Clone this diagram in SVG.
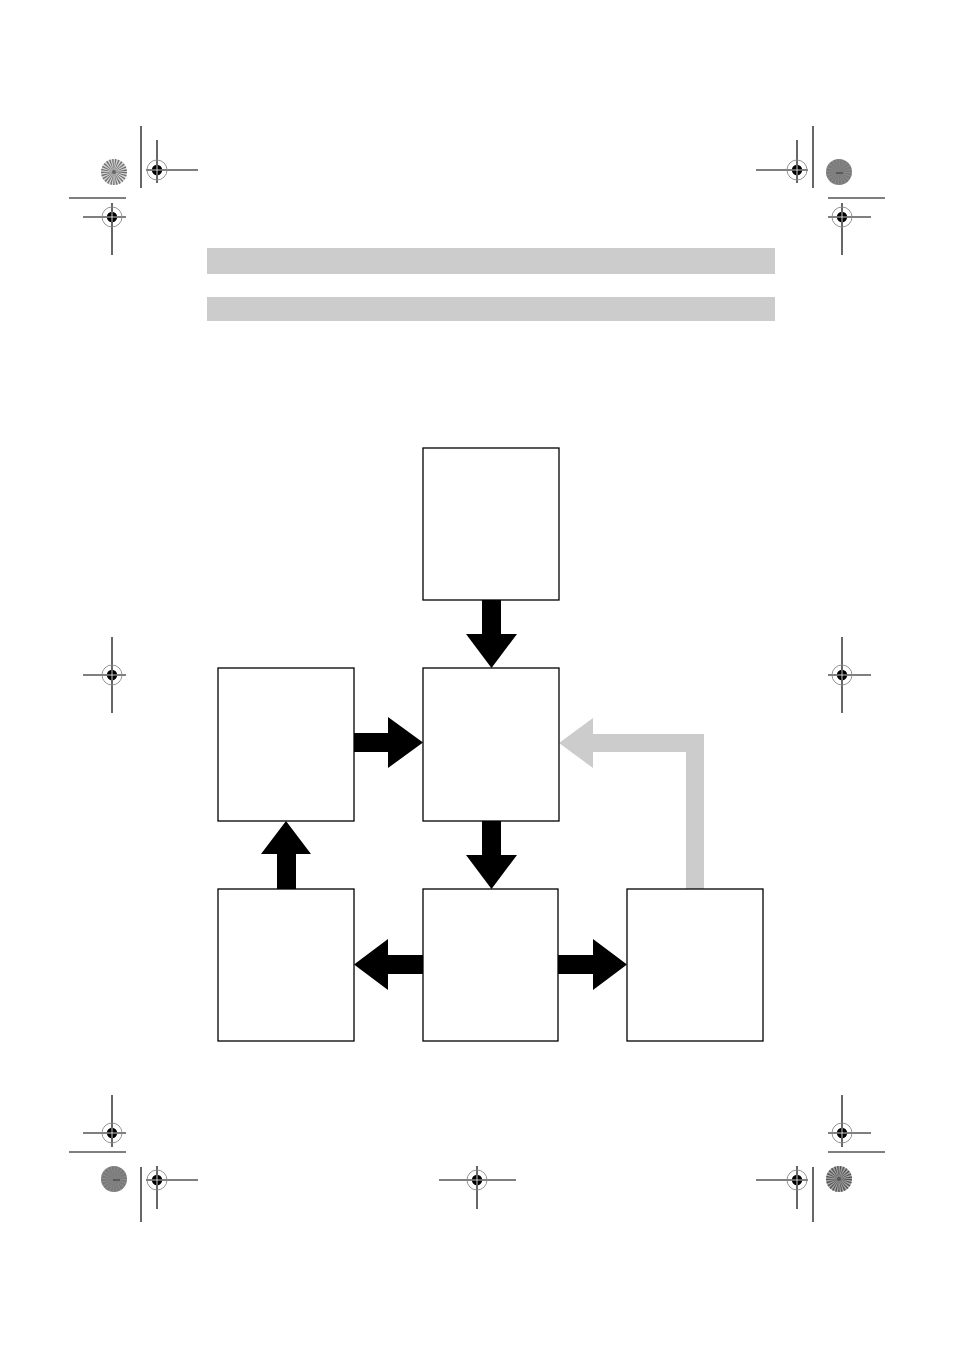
<svg xmlns="http://www.w3.org/2000/svg" width="954" height="1350" viewBox="0 0 954 1350">
<style>
.box{fill:#fff;stroke:#000;stroke-width:1.3}
.bar{fill:#cccccc}
.arr{fill:#000}
.garr{fill:#cccccc}
.ln{stroke:#000;stroke-width:1.2;fill:none}
.ring{fill:none;stroke:#888;stroke-width:0.9}
.dot{fill:#000}
.x{stroke:#fff;stroke-width:0.8}
</style>
<defs>
<g id="regc">
<circle class="ring" cx="0" cy="0" r="10"/>
<circle class="dot" cx="0" cy="0" r="5.2"/>
<line class="x" x1="-5.2" y1="0" x2="5.2" y2="0"/>
<line class="x" x1="0" y1="-5.2" x2="0" y2="5.2"/>
</g>
</defs>
<rect width="954" height="1350" fill="#fff"/>
<g id="header">
<rect class="bar" x="207" y="248" width="568" height="26"/>
<rect class="bar" x="207" y="297" width="568" height="24"/>
</g>
<g id="marks">
<!-- top-left -->
<line class="ln" x1="141" y1="126" x2="141" y2="188"/>
<line class="ln" x1="146" y1="170" x2="198" y2="170"/>
<line class="ln" x1="157" y1="140" x2="157" y2="183"/>
<use href="#regc" x="157" y="170"/>
<line class="ln" x1="69" y1="198" x2="126" y2="198"/>
<line class="ln" x1="83" y1="217" x2="126" y2="217"/>
<line class="ln" x1="112" y1="203" x2="112" y2="255"/>
<use href="#regc" x="112" y="217"/>
<circle cx="114" cy="172" r="13" fill="#d8d8d8"/>
<circle cx="114" cy="172" r="6.5" fill="none" stroke="#707070" stroke-width="13" stroke-dasharray="0.8 0.8"/>
<circle cx="114" cy="172" r="2" fill="#666"/>
<!-- top-right -->
<line class="ln" x1="813" y1="126" x2="813" y2="188"/>
<line class="ln" x1="756" y1="170" x2="808" y2="170"/>
<line class="ln" x1="797" y1="140" x2="797" y2="183"/>
<use href="#regc" x="797" y="170"/>
<line class="ln" x1="828" y1="198" x2="885" y2="198"/>
<line class="ln" x1="828" y1="217" x2="871" y2="217"/>
<line class="ln" x1="842" y1="203" x2="842" y2="255"/>
<use href="#regc" x="842" y="217"/>
<circle cx="839" cy="172" r="13" fill="#7a7a7a"/>
<circle cx="839" cy="172" r="6.5" fill="none" stroke="#999" stroke-width="13" stroke-dasharray="0.6 1.4" opacity="0.6"/>
<line x1="836" y1="173" x2="843" y2="173" stroke="#333" stroke-width="1"/>
<!-- mid -->
<line class="ln" x1="83" y1="675" x2="126" y2="675"/>
<line class="ln" x1="112" y1="637" x2="112" y2="713"/>
<use href="#regc" x="112" y="675"/>
<line class="ln" x1="828" y1="675" x2="871" y2="675"/>
<line class="ln" x1="842" y1="637" x2="842" y2="713"/>
<use href="#regc" x="842" y="675"/>
<!-- bottom-left -->
<line class="ln" x1="83" y1="1133" x2="126" y2="1133"/>
<line class="ln" x1="112" y1="1095" x2="112" y2="1147"/>
<use href="#regc" x="112" y="1133"/>
<line class="ln" x1="69" y1="1152" x2="126" y2="1152"/>
<line class="ln" x1="141" y1="1167" x2="141" y2="1222"/>
<line class="ln" x1="146" y1="1180" x2="198" y2="1180"/>
<line class="ln" x1="157" y1="1166" x2="157" y2="1209"/>
<use href="#regc" x="157" y="1180"/>
<circle cx="114" cy="1179" r="13" fill="#7a7a7a"/>
<circle cx="114" cy="1179" r="6.5" fill="none" stroke="#999" stroke-width="13" stroke-dasharray="0.6 1.4" opacity="0.6"/>
<line x1="113" y1="1180" x2="120" y2="1180" stroke="#333" stroke-width="1"/>
<!-- bottom-center -->
<line class="ln" x1="439" y1="1180" x2="516" y2="1180"/>
<line class="ln" x1="477" y1="1166" x2="477" y2="1209"/>
<use href="#regc" x="477" y="1180"/>
<!-- bottom-right -->
<line class="ln" x1="828" y1="1133" x2="871" y2="1133"/>
<line class="ln" x1="842" y1="1095" x2="842" y2="1147"/>
<use href="#regc" x="842" y="1133"/>
<line class="ln" x1="828" y1="1152" x2="885" y2="1152"/>
<line class="ln" x1="813" y1="1167" x2="813" y2="1222"/>
<line class="ln" x1="756" y1="1180" x2="808" y2="1180"/>
<line class="ln" x1="797" y1="1166" x2="797" y2="1209"/>
<use href="#regc" x="797" y="1180"/>
<circle cx="839" cy="1179" r="13" fill="#aaa"/>
<circle cx="839" cy="1179" r="6.5" fill="none" stroke="#555" stroke-width="13" stroke-dasharray="0.8 0.8"/>
<circle cx="839" cy="1179" r="2" fill="#555"/>
</g>
<g id="connectors">
<polygon class="arr" points="482,600 501,600 501,634 517,634 491.5,668 466,634 482,634"/>
<polygon class="arr" points="354,733 388,733 388,717 423,742.5 388,768 388,752 354,752"/>
<polygon class="arr" points="482,821 501,821 501,855 517,855 491.5,889 466,855 482,855"/>
<polygon class="arr" points="277,889 277,854 261,854 286,821 311,854 296,854 296,889"/>
<polygon class="arr" points="423,955 388,955 388,939 354,964.5 388,990 388,974 423,974"/>
<polygon class="arr" points="558,955 593,955 593,939 627,964.5 593,990 593,974 558,974"/>
<polygon class="garr" points="686,889 686,752 593,752 593,768 559,743 593,718 593,734 704,734 704,889"/>
</g>
<g id="node-top"><rect class="box" x="423" y="448" width="136" height="152"/></g>
<g id="node-center"><rect class="box" x="423" y="668" width="136" height="153"/></g>
<g id="node-left"><rect class="box" x="218" y="668" width="136" height="153"/></g>
<g id="node-bottom-left"><rect class="box" x="218" y="889" width="136" height="152"/></g>
<g id="node-bottom-center"><rect class="box" x="423" y="889" width="135" height="152"/></g>
<g id="node-bottom-right"><rect class="box" x="627" y="889" width="136" height="152"/></g>
</svg>
